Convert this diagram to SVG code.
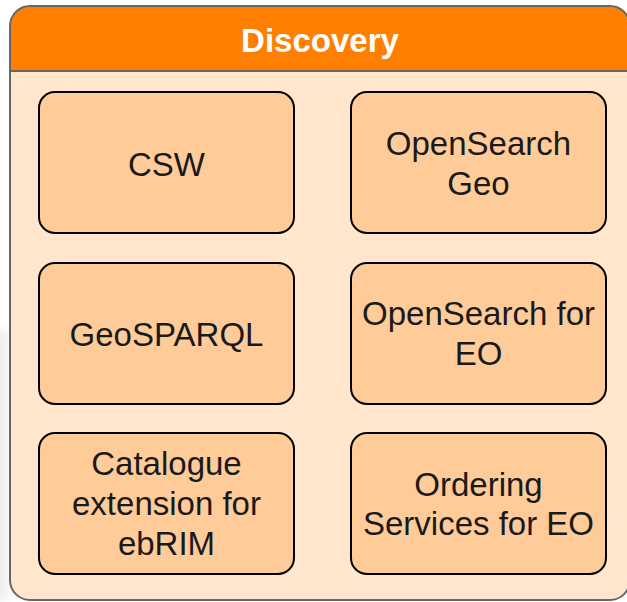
<svg xmlns="http://www.w3.org/2000/svg" width="627" height="602" viewBox="0 0 627 602">
  <defs>
    <style>
      .item rect { fill: #FFCC99; stroke: #000; stroke-width: 2; }
      .item text { font-family: "Liberation Sans", Arial, sans-serif; font-size: 33px; fill: #1a1a1a; text-anchor: middle; }
      .title { font-family: "Liberation Sans", Arial, sans-serif; font-size: 33px; font-weight: bold; fill: #fff; text-anchor: middle; }
    </style>
    <clipPath id="frameClip">
      <rect x="10" y="6" width="620" height="594" rx="20" ry="20"/>
    </clipPath>
    <filter id="soft" x="-50%" y="-50%" width="200%" height="200%">
      <feGaussianBlur stdDeviation="4"/>
    </filter>
  </defs>

  <rect width="627" height="602" fill="#fff"/>
  <!-- faint shading along the left margin -->
  <rect x="-6" y="330" width="14" height="270" fill="#e4e4e4" opacity="0.6" filter="url(#soft)"/>

  <!-- container: Discovery -->
  <g id="discovery">
    <rect x="10" y="6" width="620" height="594" rx="20" ry="20" fill="#FFE6CC"/>
    <rect x="10" y="6" width="620" height="65" fill="#FF8000" clip-path="url(#frameClip)"/>
    <line x1="10" y1="71" x2="630" y2="71" stroke="#666" stroke-width="2"/>
    <rect x="10" y="6" width="620" height="594" rx="20" ry="20" fill="none" stroke="#666" stroke-width="2"/>
    <text class="title" x="320" y="52">Discovery</text>
  </g>

  <g id="csw" class="item">
    <rect x="39" y="92" width="255" height="141" rx="16" ry="16"/>
    <text x="166.5" y="175.5">CSW</text>
  </g>

  <g id="opensearch-geo" class="item">
    <rect x="351" y="92" width="255" height="141" rx="16" ry="16"/>
    <text x="478.5" y="155">OpenSearch</text>
    <text x="478.5" y="194.5">Geo</text>
  </g>

  <g id="geosparql" class="item">
    <rect x="39" y="263" width="255" height="141" rx="16" ry="16"/>
    <text x="166.5" y="346">GeoSPARQL</text>
  </g>

  <g id="opensearch-eo" class="item">
    <rect x="351" y="263" width="255" height="141" rx="16" ry="16"/>
    <text x="478.5" y="325">OpenSearch for</text>
    <text x="478.5" y="365">EO</text>
  </g>

  <g id="catalogue-ebrim" class="item">
    <rect x="39" y="433" width="255" height="141" rx="16" ry="16"/>
    <text x="166.5" y="475">Catalogue</text>
    <text x="166.5" y="515">extension for</text>
    <text x="166.5" y="555">ebRIM</text>
  </g>

  <g id="ordering-eo" class="item">
    <rect x="351" y="433" width="255" height="141" rx="16" ry="16"/>
    <text x="478.5" y="495.5">Ordering</text>
    <text x="478.5" y="535">Services for EO</text>
  </g>

  <g id="connectors"/>
</svg>
